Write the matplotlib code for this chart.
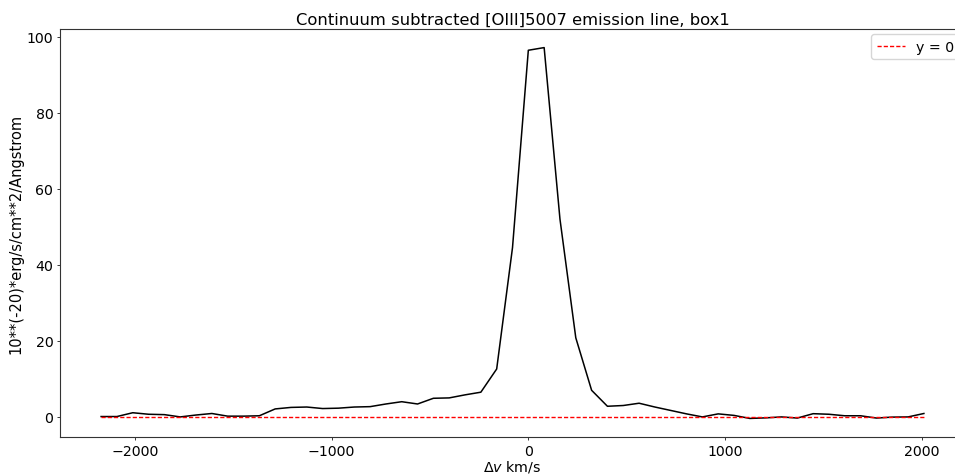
import numpy as np
import matplotlib
matplotlib.use("Agg")
import matplotlib.pyplot as plt

dv_step = 80.4
indices = list(range(-27, 26))
flux = [0.1, 0.1, 1.1, 0.7, 0.6, 0.0, 0.5, 0.9, 0.2, 0.2, 0.3, 2.1, 2.5, 2.6,
        2.2, 2.3, 2.6, 2.7, 3.4, 4.0, 3.4, 4.9, 5.0, 5.8, 6.5, 12.6, 44.5,
        96.4, 97.1, 52.0, 20.8,
        7.0, 2.8, 3.0, 3.6, 2.6, 1.7, 0.8, 0.0, 0.8, 0.4, -0.4, -0.25, 0.0,
        -0.3, 0.85, 0.7, 0.3, 0.3, -0.3, -0.05, 0.0, 0.9]
velocity = [i * dv_step for i in indices]

s = 0.68
fig = plt.figure(figsize=(9.55, 4.77), dpi=100)
ax = fig.add_axes([0.0628, 0.0818, 0.9477, 0.8552])
ax.plot(velocity, flux, color="black", linewidth=1.1)
ax.plot(velocity, np.zeros(len(velocity)), color="red", linestyle="--",
        linewidth=1.0, dashes=(3, 1.5), label="y = 0")
ax.set_title("Continuum subtracted [OIII]5007 emission line, box1", fontsize=11.8, pad=6 * s)
ax.set_xlabel(r"$\Delta v$ km/s", fontsize=10.3, labelpad=0.5)
ax.set_ylabel("10**(-20)*erg/s/cm**2/Angstrom", fontsize=10.5, labelpad=4 * s)
ax.tick_params(labelsize=10.2, length=3.5 * s, pad=3.5 * s, width=0.8 * s)
for sp in ax.spines.values():
    sp.set_linewidth(0.8)
    sp.set_color("#333333")
ax.legend(loc="upper right", fontsize=10.2, borderaxespad=0.5 * s,
          handlelength=2.0, borderpad=0.4)
fig.savefig("out.png", dpi=100)
